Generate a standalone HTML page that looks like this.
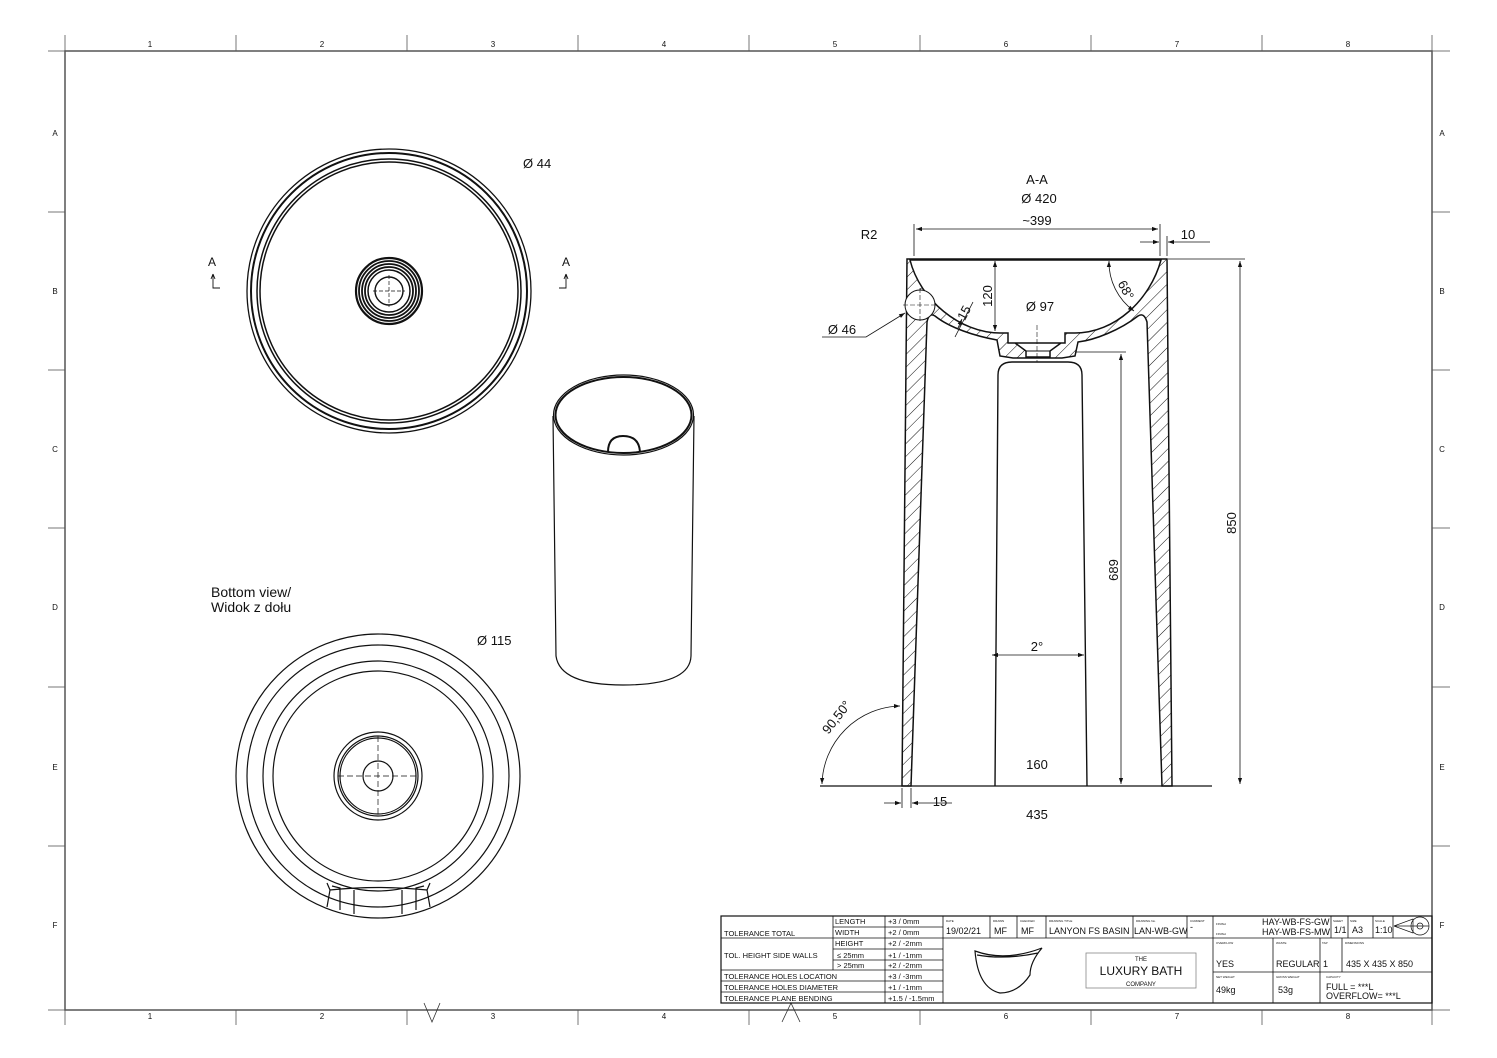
<!DOCTYPE html>
<html><head><meta charset="utf-8"><style>
html,body{margin:0;padding:0;background:#fff}
svg{display:block}
text{font-family:"Liberation Sans",sans-serif;fill:#111}
</style></head><body>
<svg width="1497" height="1058" viewBox="0 0 1497 1058" xmlns="http://www.w3.org/2000/svg">
<defs>
<pattern id="h" patternUnits="userSpaceOnUse" width="9" height="9" patternTransform="rotate(45)">
<rect width="9" height="9" fill="#fff"/><line x1="0" y1="0" x2="0" y2="9" stroke="#111" stroke-width="1"/>
</pattern>
<marker id="a" viewBox="0 0 10 10" refX="10" refY="5" markerWidth="9" markerHeight="6" orient="auto-start-reverse" markerUnits="userSpaceOnUse"><path d="M0,1.5 L10,5 L0,8.5 Z" fill="#111"/></marker>
</defs>

<!-- frame -->
<g stroke="#777" stroke-width="1" fill="none">
<line x1="48" y1="51" x2="1450" y2="51"/><line x1="48" y1="1010" x2="1450" y2="1010"/>
<line x1="65" y1="35" x2="65" y2="1025"/><line x1="1432" y1="35" x2="1432" y2="1025"/>
<line x1="236" y1="35" x2="236" y2="51"/><line x1="407" y1="35" x2="407" y2="51"/><line x1="578" y1="35" x2="578" y2="51"/><line x1="749" y1="35" x2="749" y2="51"/><line x1="920" y1="35" x2="920" y2="51"/><line x1="1091" y1="35" x2="1091" y2="51"/><line x1="1262" y1="35" x2="1262" y2="51"/>
<line x1="236" y1="1010" x2="236" y2="1025"/><line x1="407" y1="1010" x2="407" y2="1025"/><line x1="578" y1="1010" x2="578" y2="1025"/><line x1="749" y1="1010" x2="749" y2="1025"/><line x1="920" y1="1010" x2="920" y2="1025"/><line x1="1091" y1="1010" x2="1091" y2="1025"/><line x1="1262" y1="1010" x2="1262" y2="1025"/>
<line x1="48" y1="212" x2="65" y2="212"/><line x1="48" y1="370" x2="65" y2="370"/><line x1="48" y1="528" x2="65" y2="528"/><line x1="48" y1="687" x2="65" y2="687"/><line x1="48" y1="846" x2="65" y2="846"/>
<line x1="1432" y1="212" x2="1450" y2="212"/><line x1="1432" y1="370" x2="1450" y2="370"/><line x1="1432" y1="528" x2="1450" y2="528"/><line x1="1432" y1="687" x2="1450" y2="687"/><line x1="1432" y1="846" x2="1450" y2="846"/>
</g>
<rect x="65" y="51" width="1367" height="959" fill="none" stroke="#555" stroke-width="1.5"/>
<g font-size="8" text-anchor="middle">
<text x="150" y="47">1</text><text x="322" y="47">2</text><text x="493" y="47">3</text><text x="664" y="47">4</text><text x="835" y="47">5</text><text x="1006" y="47">6</text><text x="1177" y="47">7</text><text x="1348" y="47">8</text>
<text x="150" y="1019">1</text><text x="322" y="1019">2</text><text x="493" y="1019">3</text><text x="664" y="1019">4</text><text x="835" y="1019">5</text><text x="1006" y="1019">6</text><text x="1177" y="1019">7</text><text x="1348" y="1019">8</text>
<text x="55" y="136">A</text><text x="55" y="294">B</text><text x="55" y="452">C</text><text x="55" y="610">D</text><text x="55" y="770">E</text><text x="55" y="928">F</text>
<text x="1442" y="136">A</text><text x="1442" y="294">B</text><text x="1442" y="452">C</text><text x="1442" y="610">D</text><text x="1442" y="770">E</text><text x="1442" y="928">F</text>
</g>
<path d="M424,1003 L432,1022 L440,1003 M782,1022 L791,1003 L800,1022" stroke="#333" fill="none" stroke-width="0.8"/>

<!-- top view -->
<g fill="none" stroke="#111">
<circle cx="389" cy="291" r="142" stroke-width="1.3"/>
<circle cx="389" cy="291" r="138" stroke-width="2"/>
<circle cx="389" cy="291" r="132" stroke-width="1.5"/>
<circle cx="389" cy="291" r="129" stroke-width="1.5"/>
<circle cx="389" cy="291" r="33" stroke-width="2.2"/>
<circle cx="389" cy="291" r="30" stroke-width="1.8"/>
<circle cx="389" cy="291" r="27" stroke-width="1.8"/>
<circle cx="389" cy="291" r="24" stroke-width="1.8"/>
<circle cx="389" cy="291" r="21" stroke-width="1.5"/>
<circle cx="389" cy="291" r="14" stroke-width="1.4"/>
<path d="M373,291 H405 M389,275 V307" stroke-width="0.7" stroke-dasharray="4,2"/>
</g>
<text x="523" y="168" font-size="13">Ø 44</text>
<g font-size="12"><text x="208" y="266">A</text><text x="562" y="266">A</text></g>
<path d="M213,274 V288 H220 M213,274 L211,279 M213,274 L215,279 M566,274 V288 H559 M566,274 L564,279 M566,274 L568,279" stroke="#111" fill="none" stroke-width="0.9"/>

<!-- 3D cylinder -->
<g fill="none" stroke="#111" stroke-width="1.2">
<path d="M553,416 L556,656 Q560,685 623,685 Q690,685 691,656 L694,416"/>
<ellipse cx="623.5" cy="415" rx="70" ry="40"/>
<ellipse cx="623.5" cy="415" rx="68" ry="38" stroke-width="2"/>
<path d="M608,452 Q608,436 623,436 Q639,436 640,452" stroke-width="2"/>
</g>

<!-- bottom view -->
<text x="211" y="597" font-size="14">Bottom view/</text>
<text x="211" y="612" font-size="14">Widok z dołu</text>
<text x="477" y="645" font-size="13">Ø 115</text>
<g fill="none" stroke="#111" stroke-width="1.2">
<circle cx="378" cy="776" r="142"/>
<circle cx="378" cy="776" r="131"/>
<circle cx="378" cy="776" r="115"/>
<circle cx="378" cy="776" r="105"/>
<circle cx="378" cy="776" r="44"/>
<circle cx="378" cy="776" r="40"/>
<circle cx="378" cy="776" r="38"/>
<circle cx="378" cy="776" r="15"/>
<path d="M338,776 H418 M378,736 V816" stroke-width="0.7" stroke-dasharray="6,3"/>
<path d="M327,883 L330,890 L327,907 M430,883 L427,890 L430,907 M330,890 Q378,885 427,890 M332,886 L340,888 L340,910 M424,886 L416,888 L416,910 M354,890 L354,914 M402,890 L402,914"/>
</g>

<!-- section A-A -->
<path fill="url(#h)" fill-rule="evenodd" stroke="#111" stroke-width="1.5" d="M907,259 L1167,259 L1172,786 L1162,786 L1147,322 Q1144,312 1138,316 C1120,330 1095,340 1078,342 L1075,356 L1062,358 L1013,358 L1000,356 L997,340 C975,336 950,328 935,316 Q929,312 927,322 L911,786 L902,786 Z
M910,260 C920,300 960,333 1000,333 L1008,333 L1008,343 L1065,343 L1065,333 L1075,333 C1115,333 1150,300 1161,260 Z
M1015,343 L1061,343 L1050,351 L1050,357 L1026,357 L1026,351 Z"/>
<path d="M1026,351 H1050" stroke="#111" stroke-width="1"/>
<path d="M995,786 L998,375 Q998,362 1012,362 L1068,362 Q1082,362 1082,375 L1087,786" fill="none" stroke="#111" stroke-width="1.4"/>
<circle cx="920" cy="305" r="15" fill="#fff" stroke="#111" stroke-width="1"/>
<path d="M903,305 H937 M920,288 V322 M1037,325 V362" stroke="#111" stroke-width="0.6" stroke-dasharray="5,2"/>

<!-- dims -->
<g stroke="#111" stroke-width="0.8" fill="none">
<line x1="820" y1="786" x2="1212" y2="786" stroke-width="1.2"/>
<line x1="914" y1="256" x2="914" y2="224"/><line x1="1160" y1="256" x2="1160" y2="224"/>
<line x1="916" y1="229" x2="1158" y2="229" marker-start="url(#a)" marker-end="url(#a)"/>
<line x1="1167" y1="256" x2="1167" y2="236"/>
<line x1="1140" y1="242" x2="1159" y2="242" marker-end="url(#a)"/>
<line x1="1210" y1="242" x2="1168" y2="242" marker-end="url(#a)"/>
<path d="M822,337 H866 L905,313" marker-end="url(#a)"/>
<line x1="995" y1="261" x2="995" y2="331" marker-start="url(#a)" marker-end="url(#a)"/>
<line x1="955" y1="337" x2="973" y2="302"/>
<line x1="958" y1="328" x2="962" y2="319" marker-end="url(#a)"/>
<path d="M1109,261 A60,60 0 0 0 1134,311" marker-start="url(#a)" marker-end="url(#a)"/>
<line x1="1075" y1="352" x2="1126" y2="352"/>
<line x1="1121" y1="354" x2="1121" y2="784" marker-start="url(#a)" marker-end="url(#a)"/>
<line x1="1168" y1="259" x2="1245" y2="259"/>
<line x1="1240" y1="261" x2="1240" y2="784" marker-start="url(#a)" marker-end="url(#a)"/>
<line x1="992" y1="655" x2="1084" y2="655" marker-start="url(#a)" marker-end="url(#a)"/>
<line x1="902" y1="788" x2="902" y2="808"/><line x1="911" y1="788" x2="911" y2="808"/>
<line x1="884" y1="803" x2="901" y2="803" marker-end="url(#a)"/>
<line x1="952" y1="803" x2="912" y2="803" marker-end="url(#a)"/>
<path d="M900,706 A80,80 0 0 0 822,784" marker-start="url(#a)" marker-end="url(#a)"/>
</g>
<g font-size="13" text-anchor="middle">
<text x="1037" y="184">A-A</text>
<text x="1039" y="203">Ø 420</text>
<text x="1037" y="225">~399</text>
<text x="1188" y="239">10</text>
<text x="869" y="239">R2</text>
<text x="842" y="334">Ø 46</text>
<text x="1040" y="311">Ø 97</text>
<text x="1037" y="651">2°</text>
<text x="1037" y="769">160</text>
<text x="940" y="806">15</text>
<text x="1037" y="819">435</text>
<text transform="translate(992,296) rotate(-90)">120</text>
<text transform="translate(968,315) rotate(-62)">15</text>
<text transform="translate(1122,292) rotate(62)">68°</text>
<text transform="translate(1118,570) rotate(-90)">689</text>
<text transform="translate(1236,523) rotate(-90)">850</text>
<text transform="translate(840,720) rotate(-52)">90,50°</text>
</g>

<!-- title block -->
<g stroke="#111" stroke-width="0.8" fill="none">
<rect x="721" y="916" width="711" height="87" stroke-width="1.2"/>
<path d="M833,916 V970 M885,916 V1003 M943,916 V1003 M833,938 H943 M721,938 H833 M833,927 H943 M833,949 H943 M833,960 H943 M833,960 V970 M721,970 H943 M721,981 H943 M721,992 H943"/>
<path d="M943,938 H1432 M990,916 V938 M1017,916 V938 M1046,916 V938 M1133,916 V938 M1187,916 V938 M1213,916 V1003 M1331,916 V938 M1348,916 V938 M1373,916 V938 M1393,916 V938 M1213,972 H1432 M1273,938 V1003 M1320,938 V1003 M1342,938 V972"/>
<rect x="1086" y="953" width="110" height="35" stroke="#888"/>
<path d="M975,951 Q1005,962 1042,948 Q1030,962 1030,975 Q1018,993 1000,993 Q978,988 975,951 Z M977,955 Q1005,960 1038,953" stroke-width="1.2"/>
<path d="M1429,926 H1394 L1413,919 V933 L1394,926" stroke-width="0.7"/>
<circle cx="1420" cy="926" r="9" stroke-width="0.7"/><circle cx="1420" cy="926" r="3" stroke-width="0.7"/>
</g>
<g font-size="7.5">
<text x="724" y="936">TOLERANCE TOTAL</text>
<text x="835" y="924">LENGTH</text><text x="835" y="935">WIDTH</text><text x="835" y="946">HEIGHT</text>
<text x="888" y="924">+3 / 0mm</text><text x="888" y="935">+2 / 0mm</text><text x="888" y="946">+2 / -2mm</text>
<text x="724" y="958">TOL. HEIGHT SIDE WALLS</text>
<text x="837" y="958">≤  25mm</text><text x="837" y="968">&gt;  25mm</text>
<text x="888" y="958">+1 / -1mm</text><text x="888" y="968">+2 / -2mm</text>
<text x="724" y="979">TOLERANCE HOLES LOCATION</text><text x="888" y="979">+3 / -3mm</text>
<text x="724" y="990">TOLERANCE HOLES DIAMETER</text><text x="888" y="990">+1 / -1mm</text>
<text x="724" y="1001">TOLERANCE PLANE BENDING</text><text x="888" y="1001">+1.5 / -1.5mm</text>
</g>
<g font-size="3" fill="#555">
<text x="946" y="922">DATE</text><text x="993" y="922">DRAWN</text><text x="1020" y="922">CHECKED</text><text x="1049" y="922">DRAWING TITLE</text><text x="1136" y="922">DRAWING No.</text><text x="1190" y="922">CURRENT</text>
<text x="1216" y="925">FINISH</text><text x="1216" y="935">FINISH</text><text x="1333" y="922">SHEET</text><text x="1350" y="922">SIZE</text><text x="1375" y="922">SCALE</text>
<text x="1216" y="944">OVERFLOW</text><text x="1276" y="944">WASTE</text><text x="1322" y="944">TAP</text><text x="1345" y="944">DIMENSIONS</text>
<text x="1216" y="978">NET WEIGHT</text><text x="1276" y="978">GROSS WEIGHT</text><text x="1326" y="978">CAPACITY</text>
</g>
<g font-size="9">
<text x="946" y="934">19/02/21</text><text x="994" y="934">MF</text><text x="1021" y="934">MF</text>
<text x="1049" y="934">LANYON FS BASIN</text><text x="1134" y="934">LAN-WB-GW</text><text x="1190" y="930">-</text>
<text x="1262" y="925">HAY-WB-FS-GW</text><text x="1262" y="935">HAY-WB-FS-MW</text>
<text x="1334" y="933">1/1</text><text x="1352" y="933">A3</text><text x="1375" y="933">1:10</text>
<text x="1216" y="967">YES</text><text x="1276" y="967">REGULAR</text><text x="1323" y="967">1</text><text x="1346" y="967">435 X 435 X 850</text>
<text x="1216" y="993">49kg</text><text x="1278" y="993">53g</text>
<text x="1326" y="990">FULL = ***L</text><text x="1326" y="999">OVERFLOW= ***L</text>
</g>
<text x="1141" y="961" font-size="6" text-anchor="middle" fill="#777">THE</text>
<text x="1141" y="975" font-size="12" text-anchor="middle">LUXURY BATH</text>
<text x="1141" y="986" font-size="6" text-anchor="middle" fill="#777">COMPANY</text>
</svg>
</body></html>
